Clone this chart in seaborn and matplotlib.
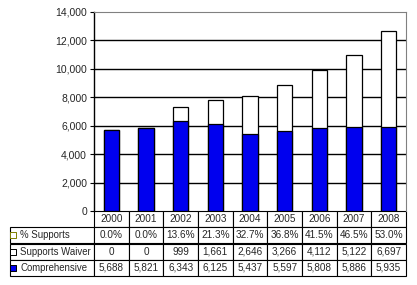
import matplotlib
matplotlib.use('Agg')
import matplotlib.pyplot as plt
import seaborn as sns
import pandas as pd

years = ['2000', '2001', '2002', '2003', '2004', '2005', '2006', '2007', '2008']
comprehensive = [5688, 5821, 6343, 6125, 5437, 5597, 5808, 5886, 5935]
waiver = [0, 0, 999, 1661, 2646, 3266, 4112, 5122, 6697]
pct_supports = ['0.0%', '0.0%', '13.6%', '21.3%', '32.7%', '36.8%', '41.5%', '46.5%', '53.0%']
row_labels = ['% Supports', 'Supports Waiver', 'Comprehensive']

df = pd.DataFrame({'year': years, 'comprehensive': comprehensive, 'waiver': waiver})
df['total'] = df['comprehensive'] + df['waiver']

sns.set_style('white')
plt.rcParams['font.family'] = ['Liberation Sans', 'DejaVu Sans']

fig = plt.figure(figsize=(4.17, 2.85), dpi=100)
ax = fig.add_axes([94 / 417, 1 - 211 / 285, 312 / 417, 199 / 285])

sns.barplot(data=df, x='year', y='total', color='white', edgecolor='black',
            linewidth=0.9, width=0.44, saturation=1, ax=ax, zorder=3)
sns.barplot(data=df, x='year', y='comprehensive', color='#0000ee', edgecolor='black',
            linewidth=0.9, width=0.44, saturation=1, ax=ax, zorder=4)

ax.set_ylim(0, 14000)
ax.set_xlim(-0.5, 8.5)
ax.set_yticks(range(0, 14001, 2000))
ax.set_yticklabels([f'{v:,}' for v in range(0, 14001, 2000)], fontsize=7.5)
ax.set_xticks([])
ax.set_xlabel('')
ax.set_ylabel('')
ax.tick_params(axis='y', length=3, width=0.8, color='black', pad=2, left=True)
for v in range(2000, 13000, 2000):
    ax.axhline(v, color='black', lw=1, zorder=1)
ax.spines['left'].set_color('black')
ax.spines['left'].set_linewidth(1)
ax.spines['top'].set_color('#808080')
ax.spines['right'].set_color('#808080')
ax.spines['bottom'].set_visible(False)

# data table under the chart
label_w = 84 / 312
col_w = 1 / len(years)
cells = [[''] + years,
         [row_labels[0]] + pct_supports,
         [row_labels[1]] + [f'{v:,}' for v in waiver],
         [row_labels[2]] + [f'{v:,}' for v in comprehensive]]
tbl = ax.table(cellText=cells, colWidths=[label_w] + [col_w] * len(years),
               cellLoc='center', bbox=[-label_w, -65 / 199, 1 + label_w, 65 / 199])
tbl.auto_set_font_size(False)
tbl.set_fontsize(7.2)
for (r, c), cell in tbl.get_celld().items():
    cell.set_linewidth(0.8)
    if r == 0 and c == 0:
        cell.set_edgecolor('white')
    if c == 0 and r > 0:
        cell.set_text_props(ha='left', fontsize=6.9)
        cell._loc = 'left'
        cell.PAD = 0.125

key_colors = ['white', 'white', '#0000ee']
key_edges = ['#808000', 'black', 'black']
for i in range(3):
    yc = (211 - (227.25 + 16.25 * i + 8)) / 199
    ax.scatter([(13.5 - 94) / 312], [yc], marker='s', s=15, color=key_colors[i],
               edgecolor=key_edges[i], linewidth=0.7, transform=ax.transAxes,
               clip_on=False, zorder=10)

fig.savefig('out.png', dpi=100, facecolor='white')
